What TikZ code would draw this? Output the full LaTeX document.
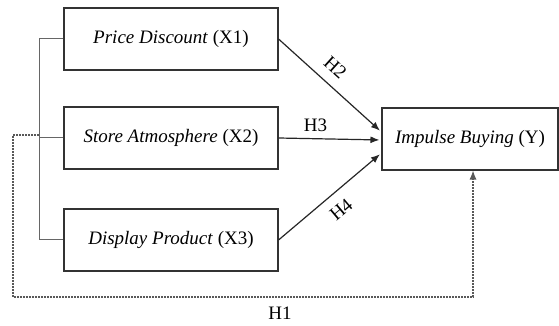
\documentclass[tikz,border=0pt]{standalone}
\usepackage{fontspec}
\setmainfont{Liberation Serif}
\usetikzlibrary{arrows.meta,positioning}

\begin{document}
\begin{tikzpicture}[x=1pt,y=1pt,>={Latex[length=9pt,width=7pt]},
  every node/.style={font=\fontsize{19}{23}\selectfont},
  var/.style={draw=black!80,line width=1.1pt,minimum height=62pt,inner sep=0},
  link/.style={draw=black!60,line width=1pt},
  hyp/.style={->,draw=black!85,line width=1.2pt,shorten >=2pt},
  direct/.style={->,draw=black!65,line width=1.1pt,dash pattern=on 1.8pt off 1.2pt}]
\useasboundingbox (0,0) rectangle (559,326);

\node[var,minimum width=214pt] (x1) at (171,287) {\textit{Price Discount} (X1)};
\node[var,minimum width=214pt] (x2) at (171,188) {\textit{Store Atmosphere} (X2)};
\node[var,minimum width=214pt] (x3) at (171,86) {\textit{Display Product} (X3)};
\node[var,minimum width=176pt] (y) at (470,187) {\textit{Impulse Buying} (Y)};

% bracket on the left
\coordinate (b1) at (39,287);
\coordinate (b3) at (39,86);
\coordinate (bm) at (39,191);
\draw[link] (x1.west) -- (b1) -- (b3) -- (x3.west);
\draw[link] (x2.west) -- (x2.west -| b1);

% hypotheses
\draw[hyp] (x1.east) -- node[pos=0.44,sloped,above=7pt] (h2) {H2} ([yshift=7pt]y.west);
\draw[hyp] (x2.east) -- node[pos=0.36,above=3pt] (h3) {H3} ([yshift=-1pt]y.west);
\draw[hyp] (x3.east) -- node[pos=0.5,sloped,below=7pt] (h4) {H4} ([yshift=-14pt]y.west);

\coordinate (d1) at (13,191);
\coordinate (d2) at (13,29);
\coordinate (d3) at (473,29);
\draw[direct] (bm) -- (d1) -- (d2) -- (d3) -- (d3 |- y.south);
\node (h1) at (280,13) {H1};
\end{tikzpicture}
\end{document}
